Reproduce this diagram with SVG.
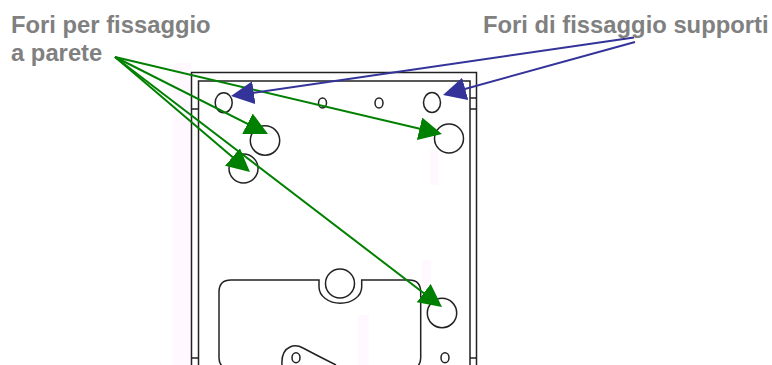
<svg xmlns="http://www.w3.org/2000/svg" width="772" height="365" viewBox="0 0 772 365">
<style>
.d{fill:none;stroke:#222;stroke-width:1.5}
.t{font-family:"Liberation Sans",Arial,sans-serif;font-weight:bold;font-size:23.8px;fill:#808080}
.g{fill:none;stroke:#008000;stroke-width:2;marker-end:url(#ag)}
.b{fill:none;stroke:#333399;stroke-width:2;marker-end:url(#ab)}
.p{fill:#fff8ff}
</style>
<defs>
<marker id="ag" markerUnits="userSpaceOnUse" markerWidth="23" markerHeight="23" viewBox="0 0 23 23" refX="20" refY="11.500" orient="auto"><path d="M0 0L23 11.500L0 23Z" fill="#008000"/></marker>
<marker id="ab" markerUnits="userSpaceOnUse" markerWidth="23" markerHeight="23" viewBox="0 0 23 23" refX="20" refY="11.500" orient="auto"><path d="M0 0L23 11.500L0 23Z" fill="#333399"/></marker>
</defs>
<g id="background-marks">
<rect class="p" x="173" y="63" width="18" height="302"/>
<rect class="p" x="430" y="150" width="8" height="35"/>
<rect class="p" x="422" y="260" width="9" height="30"/>
<rect class="p" x="358" y="315" width="11" height="50"/>
</g>
<g id="plate">
<path class="d" d="M191.500 365V72.500H476.500V365"/>
<path class="d" d="M198.500 365V81H470V365"/>
<path class="d" d="M191.500 109H198.500M470 98H476.500M470 109H476.500M191.500 358H198.500M470 358H476.500"/>
</g>
<g id="hole-top-left"><ellipse class="d" cx="223.700" cy="102.700" rx="8.500" ry="10"/></g>
<g id="hole-top-right"><ellipse class="d" cx="432" cy="102.500" rx="8.500" ry="10"/></g>
<g id="hole-small-1"><ellipse class="d" cx="322.500" cy="103" rx="4" ry="5"/></g>
<g id="hole-small-2"><ellipse class="d" cx="379" cy="103" rx="4" ry="5"/></g>
<g id="hole-small-3"><ellipse class="d" cx="445" cy="357.700" rx="4" ry="5"/></g>
<g id="wall-hole-1"><circle class="d" cx="265" cy="140.500" r="14.700"/></g>
<g id="wall-hole-2"><circle class="d" cx="243.500" cy="168.500" r="14.500"/></g>
<g id="wall-hole-3"><circle class="d" cx="449" cy="138.500" r="14.500"/></g>
<g id="wall-hole-4"><circle class="d" cx="442" cy="313" r="14.700"/></g>
<g id="cutout">
<path class="d" d="M336 365Q318 356 303 348Q296 344 290 347Q281 351 282 365"/>
<path class="d" d="M231 280H319V287A21 16 0 0 0 361.700 287V280H409Q420.700 280 420.700 292V358Q420.700 364 416 368M219 358V292Q219 280 231 280M219 358Q219 364 224 368"/>
<ellipse class="d" cx="296" cy="357.700" rx="4" ry="5"/>
<circle class="d" cx="340" cy="283.500" r="14.500"/>
</g>
<g id="connectors">
<path class="g" d="M115 57L439 133.300"/>
<path class="g" d="M115 57L265.300 132.700"/>
<path class="g" d="M115 57L247.700 170"/>
<path class="g" d="M115 57L439.600 305.200"/>
<path class="b" d="M634 37.500L234 95.600"/>
<path class="b" d="M635 42L445.900 94.200"/>
</g>
<g id="labels">
<text class="t" x="11" y="33">Fori per fissaggio</text>
<text class="t" x="11" y="61">a parete</text>
<text class="t" x="483" y="33">Fori di fissaggio supporti</text>
</g>
</svg>
